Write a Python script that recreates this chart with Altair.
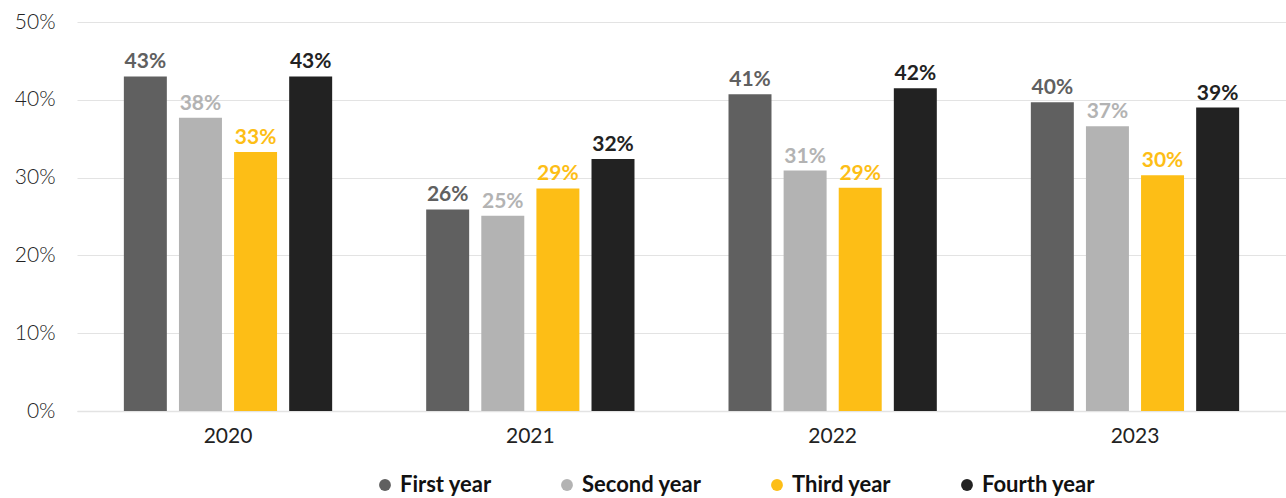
import altair as alt
import pandas as pd

years = ["2020", "2021", "2022", "2023"]
series = ["First year", "Second year", "Third year", "Fourth year"]
colors = ["#606060", "#b3b3b3", "#fdbe16", "#222222"]
first_year = [43.0, 25.9, 40.7, 39.7]
second_year = [37.7, 25.1, 30.9, 36.6]
third_year = [33.3, 28.6, 28.7, 30.3]
fourth_year = [43.0, 32.4, 41.5, 39.0]

rows = []
for s, vals in zip(series, [first_year, second_year, third_year, fourth_year]):
    for y, v in zip(years, vals):
        rows.append({"year": y, "series": s, "value": v, "label": f"{round(v):d}%"})
df = pd.DataFrame(rows)

FONT = "Lato"

color_scale = alt.Scale(domain=series, range=colors)

base = alt.Chart(df).encode(
    x=alt.X("year:N", sort=years, scale=alt.Scale(paddingInner=0.311, paddingOuter=0.155),
            axis=alt.Axis(title=None, labelAngle=0, labelFontSize=21, labelColor="#222222",
                          labelFont=FONT, labelPadding=14, ticks=False, domain=True,
                          domainColor="#e3e3e3", domainWidth=1.5)),
    xOffset=alt.XOffset("series:N", sort=series, scale=alt.Scale(paddingInner=0.22, paddingOuter=0)),
)

bars = base.mark_bar().encode(
    y=alt.Y("value:Q", scale=alt.Scale(domain=[0, 50]),
            axis=alt.Axis(title=None, values=[0, 10, 20, 30, 40, 50],
                          labelExpr="datum.value + '%'", labelFontSize=21,
                          labelColor="#222222", labelFont=FONT, labelFontWeight=300,
                          labelPadding=22,
                          ticks=False, domain=False, gridColor="#e3e3e3", gridWidth=1)),
    color=alt.Color("series:N", scale=color_scale, sort=series,
                    legend=alt.Legend(title=None, orient="none", direction="horizontal",
                                      legendX=297, legendY=452, symbolType="circle",
                                      symbolSize=140, labelFontSize=22, labelFontWeight="bold",
                                      labelFont=FONT, labelColor="#111111", columnPadding=64,
                                      symbolStrokeWidth=0)),
)

labels = base.mark_text(dy=-14, fontSize=21, fontWeight="bold", font=FONT).encode(
    y=alt.Y("value:Q"),
    text="label:N",
    color=alt.Color("series:N", scale=color_scale, sort=series, legend=None),
)

chart = alt.layer(bars, labels).properties(
    width=1209, height=389,
    autosize=alt.AutoSizeParams(type="none"),
    padding={"left": 77, "top": 22, "right": 0, "bottom": 87},
).configure_view(stroke=None).configure_axis(grid=True).configure_axisX(grid=False)

chart.save("out.html", embed_options={"renderer": "svg", "actions": False})
